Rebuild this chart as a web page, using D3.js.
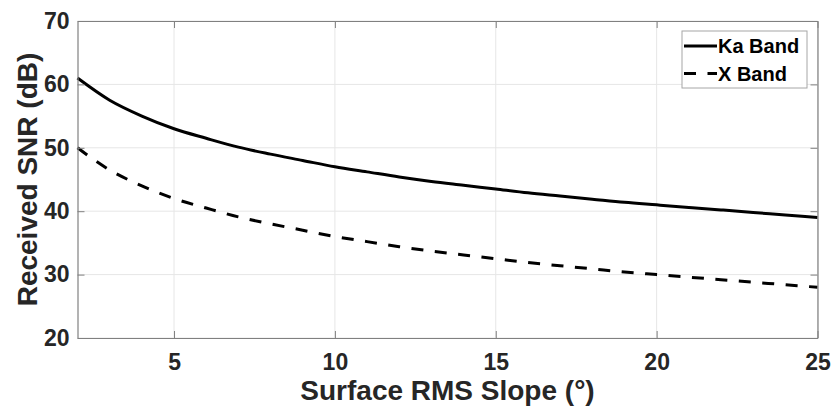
<!DOCTYPE html>
<html>
<head>
<meta charset="utf-8">
<script src="https://cdn.jsdelivr.net/npm/d3@7"></script>
<style>
  body { margin: 0; background: #fff; }
  text { font-family: "Liberation Sans", Arial, Helvetica, sans-serif; font-weight: bold; fill: #262626; }
</style>
</head>
<body>
<div id="chart"></div>
<script>
// Surface RMS slope (degrees)
const slope = [2, 3, 4, 5, 6, 7, 8, 9, 10, 11, 12, 13, 14, 15, 16, 17, 18, 19, 20, 21, 22, 23, 24, 25];
// Received SNR (dB)
const kaBand = [61.0, 57.5, 55.0, 53.0, 51.5, 50.1, 49.0, 48.0, 47.0, 46.2, 45.4, 44.7, 44.1, 43.5,
                42.9, 42.4, 41.9, 41.4, 41.0, 40.6, 40.2, 39.8, 39.4, 39.0];
const xBand = [50.0, 46.5, 44.0, 42.0, 40.5, 39.1, 38.0, 37.0, 36.0, 35.2, 34.4, 33.7, 33.1, 32.5,
               31.9, 31.4, 30.9, 30.4, 30.0, 29.6, 29.2, 28.8, 28.4, 28.0];
const xTicks = [5, 10, 15, 20, 25];
const yTicks = [20, 30, 40, 50, 60, 70];
const seriesNames = ["Ka Band", "X Band"];

// Define the dimensions and margins for the SVG
const margin = {top: 21, right: 14.5, bottom: 69, left: 77.5};
const width = 832 - margin.left - margin.right;
const height = 407 - margin.top - margin.bottom;

const svg = d3.select("#chart")
    .append("svg")
    .attr("width", 832)
    .attr("height", 407);

const g = svg.append("g")
    .attr("transform", `translate(${margin.left},${margin.top})`);

// Scales
const x = d3.scaleLinear().domain([2, 25]).range([0, width]);
const y = d3.scaleLinear().domain([20, 70]).range([height, 0]);

// Grid lines
g.append("g")
    .selectAll("line")
    .data(xTicks)
    .enter()
    .append("line")
    .attr("x1", d => x(d)).attr("x2", d => x(d))
    .attr("y1", 0).attr("y2", height)
    .attr("stroke", "#e6e6e6");

g.append("g")
    .selectAll("line")
    .data(yTicks)
    .enter()
    .append("line")
    .attr("x1", 0).attr("x2", width)
    .attr("y1", d => y(d)).attr("y2", d => y(d))
    .attr("stroke", "#e6e6e6");

// Curves
const kaData = slope.map((s, i) => ({s: s, v: kaBand[i]}));
const xData = slope.map((s, i) => ({s: s, v: xBand[i]}));

const line = d3.line()
    .x(d => x(d.s))
    .y(d => y(d.v))
    .curve(d3.curveMonotoneX);

g.append("path")
    .datum(kaData)
    .attr("fill", "none")
    .attr("stroke", "#000")
    .attr("stroke-width", 3)
    .attr("d", line);

g.append("path")
    .datum(xData)
    .attr("fill", "none")
    .attr("stroke", "#000")
    .attr("stroke-width", 3)
    .attr("stroke-dasharray", "12,11.5")
    .attr("d", line);

// Axes (ticks inward, on all four sides)
const axisColor = "#808080";
const styleAxis = sel => {
    sel.attr("font-size", null).attr("font-family", null);
    sel.select(".domain").attr("stroke", axisColor).attr("stroke-width", 1.2);
    sel.selectAll(".tick line").attr("stroke", axisColor);
    sel.selectAll(".tick text")
        .style("font-size", "23px")
        .style("fill", "#262626");
};

g.append("g")
    .attr("transform", `translate(0,${height})`)
    .call(d3.axisBottom(x).tickValues(xTicks).tickSizeInner(-7).tickSizeOuter(0).tickPadding(16))
    .call(styleAxis);

g.append("g")
    .call(d3.axisTop(x).tickValues(xTicks).tickSizeInner(-7).tickSizeOuter(0).tickFormat(""))
    .call(styleAxis);

g.append("g")
    .call(d3.axisLeft(y).tickValues(yTicks).tickSizeInner(-7).tickSizeOuter(0).tickPadding(8))
    .call(styleAxis);

g.append("g")
    .attr("transform", `translate(${width},0)`)
    .call(d3.axisRight(y).tickValues(yTicks).tickSizeInner(-7).tickSizeOuter(0).tickFormat(""))
    .call(styleAxis);

// Axis labels
svg.append("text")
    .attr("x", margin.left + width / 2)
    .attr("y", 400)
    .attr("text-anchor", "middle")
    .style("font-size", "28px")
    .text("Surface RMS Slope (°)");

svg.append("text")
    .attr("transform", "rotate(-90)")
    .attr("x", -(margin.top + height / 2))
    .attr("y", 37)
    .attr("text-anchor", "middle")
    .style("font-size", "28px")
    .text("Received SNR (dB)");

// Legend
const legend = svg.append("g")
    .attr("transform", "translate(682,31)");

legend.append("rect")
    .attr("x", 0).attr("y", 0)
    .attr("width", 125).attr("height", 57)
    .attr("fill", "#fff")
    .attr("stroke", "#a6a6a6")
    .attr("stroke-width", 1);

seriesNames.forEach((name, i) => {
    const ly = 15 + i * 27.5;
    legend.append("line")
        .attr("x1", 2).attr("x2", 35)
        .attr("y1", ly).attr("y2", ly)
        .attr("stroke", "#000")
        .attr("stroke-width", 3)
        .attr("stroke-dasharray", i === 1 ? "12,11.5" : null);
    legend.append("text")
        .attr("x", 36)
        .attr("y", ly + 7)
        .style("font-size", "20px")
        .style("fill", "#000")
        .text(name);
});
</script>
</body>
</html>
